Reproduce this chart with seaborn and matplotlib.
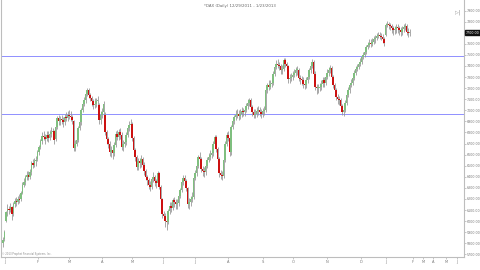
import numpy as np
import pandas as pd
import matplotlib
matplotlib.use("Agg")
import matplotlib.pyplot as plt
import seaborn as sns

# ---------------- data ----------------
title = "*DAX (Daily) 12/29/2011 - 1/23/2013"

opens = [5800, 5840, 6000, 6090, 6110, 6100, 6130, 6070, 6150, 6180, 6170, 6200, 6200, 6250, 6330, 6350,
         6400, 6420, 6400, 6440, 6520, 6510, 6540, 6560, 6620, 6670, 6720, 6770, 6760, 6740, 6780, 6750,
         6790, 6800, 6810, 6740, 6850, 6930, 6900, 6920, 6910, 6890, 6940, 6930, 6960, 6950, 6940, 6900,
         6660, 6700, 6730, 6840, 6890, 7000, 7060, 7090, 7150, 7180, 7140, 7110, 7080, 7050, 7060, 7080,
         7050, 6910, 6960, 6980, 6960, 6800, 6740, 6700, 6620, 6640, 6610, 6690, 6790, 6760, 6800, 6780,
         6670, 6700, 6710, 6780, 6840, 6870, 6880, 6750, 6640, 6580, 6490, 6540, 6520, 6560, 6510, 6450,
         6400, 6370, 6330, 6310, 6380, 6400, 6360, 6340, 6430, 6310, 6200, 6060, 6050, 6000, 5990, 6090,
         6140, 6120, 6190, 6170, 6150, 6160, 6230, 6280, 6350, 6390, 6360, 6300, 6150, 6170, 6200, 6220,
         6390, 6430, 6500, 6580, 6560, 6470, 6450, 6440, 6500, 6550, 6580, 6600, 6610, 6700, 6760, 6650,
         6560, 6430, 6420, 6410, 6550, 6700, 6780, 6750, 6620, 6850, 6900, 6940, 6960, 6970, 6950, 6970,
         6990, 6980, 7000, 7040, 7070, 7090, 7030, 6980, 6960, 6970, 6990, 7000, 6980, 6970, 6990, 7000,
         7180, 7230, 7210, 7240, 7250, 7330, 7390, 7420, 7410, 7400, 7360, 7370, 7450, 7420, 7400, 7280,
         7290, 7300, 7320, 7340, 7360, 7360, 7290, 7280, 7270, 7240, 7230, 7270, 7300, 7360, 7400, 7440,
         7330, 7210, 7200, 7200, 7210, 7240, 7270, 7250, 7300, 7340, 7360, 7380, 7300, 7230, 7180, 7120,
         7100, 7090, 7040, 6980, 7000, 7070, 7140, 7180, 7230, 7250, 7290, 7340, 7370, 7390, 7420, 7440,
         7480, 7500, 7530, 7570, 7590, 7610, 7600, 7620, 7640, 7650, 7670, 7680, 7670, 7660, 7640, 7680,
         7770, 7780, 7770, 7760, 7740, 7720, 7730, 7750, 7740, 7720, 7710, 7730, 7750, 7760, 7710, 7700]

closes = [5830, 5900, 6080, 6110, 6100, 6130, 6060, 6150, 6180, 6170, 6200, 6190, 6250, 6330, 6350, 6400,
          6420, 6400, 6440, 6520, 6510, 6540, 6550, 6620, 6670, 6720, 6770, 6760, 6740, 6780, 6750, 6790,
          6800, 6810, 6730, 6850, 6930, 6900, 6920, 6910, 6890, 6940, 6930, 6960, 6950, 6940, 6910, 6660,
          6700, 6730, 6840, 6890, 7000, 7060, 7090, 7150, 7180, 7140, 7110, 7080, 7050, 7060, 7080, 7090,
          6910, 6960, 6980, 7060, 6800, 6740, 6700, 6620, 6640, 6610, 6690, 6790, 6760, 6800, 6780, 6670,
          6700, 6710, 6780, 6840, 6870, 6880, 6750, 6640, 6580, 6490, 6540, 6520, 6560, 6510, 6450, 6400,
          6370, 6330, 6310, 6380, 6400, 6360, 6340, 6430, 6310, 6200, 6060, 6050, 6000, 5990, 6090, 6140,
          6120, 6190, 6170, 6150, 6160, 6230, 6280, 6350, 6390, 6360, 6300, 6150, 6170, 6200, 6220, 6390,
          6430, 6500, 6580, 6560, 6470, 6450, 6440, 6500, 6550, 6580, 6600, 6610, 6700, 6760, 6650, 6560,
          6430, 6420, 6410, 6550, 6700, 6780, 6750, 6620, 6850, 6900, 6940, 6960, 6970, 6950, 6970, 6990,
          6980, 7000, 7040, 7070, 7090, 7030, 6980, 6960, 6970, 6990, 7000, 6980, 6970, 6990, 7000, 7180,
          7230, 7210, 7240, 7250, 7330, 7390, 7420, 7410, 7400, 7360, 7370, 7450, 7420, 7400, 7280, 7290,
          7300, 7320, 7340, 7360, 7360, 7290, 7280, 7270, 7240, 7230, 7270, 7300, 7360, 7400, 7440, 7330,
          7210, 7200, 7200, 7210, 7240, 7270, 7250, 7300, 7340, 7360, 7380, 7300, 7230, 7180, 7120, 7100,
          7090, 7040, 6980, 7000, 7070, 7140, 7180, 7230, 7250, 7290, 7340, 7370, 7390, 7420, 7440, 7480,
          7500, 7530, 7570, 7590, 7610, 7600, 7620, 7640, 7650, 7670, 7680, 7670, 7660, 7640, 7610, 7770,
          7780, 7770, 7760, 7740, 7720, 7730, 7750, 7740, 7720, 7710, 7730, 7750, 7760, 7710, 7700, 7700]

highs = [5860, 5920, 6090, 6150, 6140, 6160, 6140, 6170, 6210, 6220, 6230, 6240, 6270, 6350, 6390, 6420,
         6450, 6450, 6470, 6540, 6560, 6570, 6590, 6640, 6690, 6740, 6800, 6810, 6790, 6810, 6810, 6820,
         6850, 6840, 6820, 6870, 6950, 6960, 6950, 6960, 6940, 6970, 6980, 6990, 7000, 6990, 6960, 6910,
         6730, 6760, 6860, 6910, 7020, 7080, 7120, 7170, 7200, 7200, 7160, 7130, 7100, 7110, 7110, 7130,
         7070, 6990, 7020, 7080, 6980, 6820, 6760, 6720, 6680, 6670, 6710, 6810, 6820, 6830, 6840, 6800,
         6730, 6750, 6800, 6870, 6900, 6920, 6890, 6770, 6660, 6600, 6570, 6570, 6600, 6580, 6530, 6470,
         6420, 6390, 6360, 6400, 6440, 6420, 6380, 6450, 6440, 6330, 6210, 6090, 6070, 6040, 6110, 6170,
         6170, 6210, 6220, 6200, 6200, 6250, 6300, 6370, 6420, 6420, 6380, 6310, 6210, 6230, 6260, 6410,
         6460, 6520, 6600, 6620, 6580, 6500, 6490, 6530, 6580, 6610, 6640, 6650, 6720, 6780, 6780, 6670,
         6580, 6460, 6450, 6570, 6720, 6800, 6810, 6770, 6870, 6930, 6960, 7000, 7010, 7000, 7010, 7030,
         7020, 7040, 7070, 7100, 7110, 7110, 7050, 7010, 7010, 7030, 7040, 7030, 7010, 7020, 7040, 7200,
         7250, 7270, 7270, 7290, 7350, 7410, 7450, 7460, 7440, 7420, 7410, 7470, 7470, 7440, 7410, 7330,
         7340, 7350, 7370, 7390, 7400, 7380, 7320, 7310, 7300, 7270, 7300, 7330, 7380, 7430, 7460, 7450,
         7350, 7240, 7240, 7250, 7270, 7300, 7300, 7330, 7370, 7390, 7410, 7400, 7320, 7250, 7200, 7150,
         7130, 7110, 7060, 7040, 7090, 7160, 7210, 7250, 7280, 7310, 7360, 7400, 7420, 7440, 7470, 7500,
         7530, 7550, 7590, 7620, 7640, 7640, 7650, 7670, 7680, 7700, 7710, 7710, 7700, 7690, 7660, 7790,
         7810, 7800, 7790, 7780, 7760, 7760, 7780, 7780, 7760, 7750, 7760, 7780, 7790, 7780, 7740, 7730]

lows = [5770, 5820, 5990, 6050, 6060, 6080, 6010, 6050, 6130, 6140, 6150, 6160, 6180, 6240, 6310, 6330,
        6370, 6370, 6380, 6420, 6480, 6490, 6500, 6540, 6600, 6650, 6700, 6730, 6700, 6720, 6710, 6730,
        6760, 6770, 6700, 6720, 6830, 6870, 6870, 6880, 6850, 6870, 6900, 6900, 6920, 6900, 6880, 6630,
        6630, 6680, 6710, 6820, 6870, 6980, 7040, 7070, 7130, 7110, 7080, 7040, 7010, 7020, 7030, 7050,
        6880, 6880, 6930, 6960, 6780, 6700, 6660, 6590, 6580, 6560, 6590, 6670, 6730, 6730, 6740, 6640,
        6630, 6670, 6690, 6760, 6810, 6840, 6720, 6610, 6540, 6460, 6460, 6480, 6490, 6470, 6420, 6370,
        6330, 6290, 6270, 6290, 6350, 6320, 6300, 6320, 6290, 6170, 6030, 6010, 5950, 5920, 5970, 6060,
        6080, 6100, 6130, 6110, 6110, 6140, 6210, 6260, 6330, 6330, 6270, 6120, 6110, 6140, 6170, 6200,
        6370, 6410, 6480, 6530, 6440, 6410, 6400, 6420, 6480, 6530, 6550, 6570, 6590, 6680, 6620, 6530,
        6400, 6380, 6370, 6390, 6530, 6680, 6720, 6590, 6600, 6830, 6880, 6910, 6930, 6910, 6920, 6940,
        6950, 6950, 6980, 7010, 7040, 7000, 6950, 6930, 6930, 6940, 6960, 6950, 6930, 6940, 6960, 6980,
        7160, 7180, 7190, 7210, 7230, 7310, 7370, 7380, 7360, 7330, 7330, 7350, 7390, 7360, 7250, 7250,
        7260, 7270, 7300, 7310, 7320, 7260, 7240, 7230, 7200, 7190, 7200, 7250, 7280, 7340, 7380, 7300,
        7180, 7150, 7160, 7170, 7180, 7210, 7210, 7230, 7280, 7310, 7340, 7270, 7200, 7150, 7090, 7060,
        7050, 7000, 6960, 6950, 6980, 7050, 7120, 7160, 7210, 7230, 7270, 7320, 7350, 7370, 7400, 7420,
        7460, 7480, 7510, 7550, 7570, 7570, 7580, 7600, 7610, 7630, 7650, 7640, 7630, 7610, 7580, 7670,
        7750, 7730, 7720, 7700, 7680, 7690, 7700, 7700, 7680, 7670, 7680, 7710, 7720, 7680, 7660, 7670]

level_lines = [7490, 6966]
last_price = closes[-1]

y_ticks = list(range(5700, 8000, 100))
month_tick_days = [1.3, 23.3, 44, 66, 86, 106.7, 128, 150, 173.3, 193.3, 216, 238.7, 255.3,
                   273.3, 280, 286.7, 295.3, 302.7]
month_tick_labels = ["J", "F", "M", "A", "M", "J", "J", "A", "S", "O", "N", "D", "J",
                     "F", "M", "A", "M", "J"]

# ---------------- figure ----------------
sns.set_theme(style="white")
plt.rcParams["font.family"] = ["DejaVu Sans"]

W, H = 480, 270
fig = plt.figure(figsize=(W / 100, H / 100), dpi=100)
fig.patch.set_facecolor("white")
ax = fig.add_axes([1 / W, 1 - 257 / H, 463 / W, 257 / H])
ax.set_facecolor("white")

df = pd.DataFrame({"day": np.arange(len(closes)), "open": opens, "close": closes,
                   "high": highs, "low": lows})
df["up"] = df["close"] >= df["open"]
df["bottom"] = df[["open", "close"]].min(axis=1)
df["height"] = (df["close"] - df["open"]).abs().clip(lower=8)

GREEN = "#7fbf7f"
RED = "#cc1111"
WICK = "#9a9a9a"

ax.vlines(df["day"], df["low"], df["high"], color=WICK, lw=0.6, zorder=2)
colors = np.where(df["up"], GREEN, RED)
ax.bar(df["day"], df["height"], bottom=df["bottom"], width=0.85, color=colors,
       edgecolor="none", linewidth=0, zorder=3)

for lv in level_lines:
    ax.axhline(lv, color="#8f8fff", lw=0.7, zorder=1)

ax.set_xlim(-1.33, 307.3)
ax.set_ylim(5676, 7995)

# right-side price axis (the last-price box takes the place of the label it covers)
ax.yaxis.tick_right()
ax.set_yticks(y_ticks)
ax.set_yticklabels(["" if abs(v - last_price) < 50 else f"{v:.2f}" for v in y_ticks],
                   fontsize=2.3, color="#777777")
ax.tick_params(axis="y", which="both", length=1.5, width=0.4, color="#999999", pad=0.8, right=True)

ax.set_xticks(month_tick_days)
ax.set_xticklabels(month_tick_labels, fontsize=2.6, color="#777777")
ax.tick_params(axis="x", which="both", length=1.5, width=0.4, color="#999999", pad=0.8, bottom=True)

ax.spines["top"].set_visible(False)
for side in ["left", "right", "bottom"]:
    ax.spines[side].set_color("#bdbdbd")
    ax.spines[side].set_linewidth(0.8)

# last-price marker box on the price axis
ax.text(1.003, (last_price - 5676) / (7995 - 5676), f"{last_price:.2f}", transform=ax.transAxes,
        fontsize=2.3, color="white", va="center", ha="left",
        bbox=dict(boxstyle="square,pad=0.25", fc="#111111", ec="#111111"), clip_on=False)

fig.text(240 / W, 1 - 6 / H, title, ha="center", va="center", fontsize=2.8, color="#666666")
fig.text(458 / W, 1 - 12 / H, "▷|", ha="center", va="center", fontsize=3.5, color="#888888")
fig.text(2 / W, 1 - 254 / H, "© 2013 Prophet Financial Systems, Inc.", ha="left", va="center",
         fontsize=1.8, color="#888888")

fig.savefig("out.png", dpi=100, facecolor="white")
